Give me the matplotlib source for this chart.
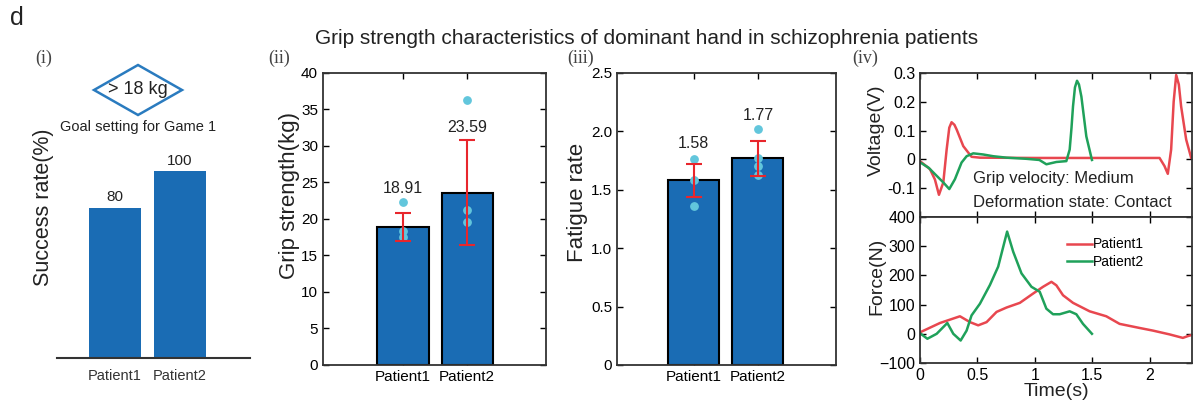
import matplotlib
matplotlib.use('Agg')
import matplotlib.pyplot as plt
from matplotlib.patches import Polygon

plt.rcParams['font.family'] = ['Liberation Sans', 'DejaVu Sans']

# ---- data ----
patients = ['Patient1', 'Patient2']
success_rate = [80, 100]

grip_mean = [18.91, 23.59]
grip_err = [1.9, 7.2]
grip_pts_p1 = [22.3, 18.3, 17.6]
grip_pts_p2 = [36.3, 21.2, 19.6]

fatigue_mean = [1.58, 1.77]
fatigue_err = [0.14, 0.15]
fatigue_pts_p1 = [1.76, 1.58, 1.36]
fatigue_pts_p2 = [2.02, 1.77, 1.70, 1.63]

# voltage traces
v1_t = [0, 0.087, 0.13, 0.165, 0.203, 0.232, 0.255, 0.275, 0.3, 0.32, 0.377, 0.449, 0.522, 1.0, 1.5, 2.087, 2.13, 2.159, 2.188, 2.21, 2.232, 2.255, 2.275, 2.319, 2.362]
v1_v = [-0.006, -0.034, -0.07, -0.123, -0.08, 0.034, 0.11, 0.129, 0.12, 0.103, 0.046, 0.009, 0.006, 0.005, 0.005, 0.005, -0.023, -0.05, 0.034, 0.2, 0.293, 0.26, 0.184, 0.069, 0.006]
v2_t = [0, 0.075, 0.145, 0.203, 0.255, 0.304, 0.362, 0.406, 0.464, 0.551, 0.638, 0.754, 0.928, 1.04, 1.101, 1.188, 1.275, 1.304, 1.32, 1.333, 1.35, 1.368, 1.385, 1.406, 1.449, 1.498]
v2_v = [-0.01, -0.029, -0.057, -0.08, -0.103, -0.069, -0.011, 0.011, 0.021, 0.017, 0.011, 0.006, 0.002, -0.002, -0.017, -0.009, -0.006, 0.034, 0.11, 0.184, 0.25, 0.273, 0.26, 0.218, 0.08, -0.002]

# force traces
f1_t = [0, 0.174, 0.348, 0.435, 0.507, 0.58, 0.667, 0.754, 0.87, 0.986, 1.072, 1.145, 1.188, 1.246, 1.333, 1.478, 1.623, 1.739, 1.913, 2.029, 2.174, 2.29, 2.333, 2.36]
f1_f = [5, 37, 60, 40, 29, 40, 75, 90, 106, 138, 161, 178, 166, 132, 106, 77, 60, 34, 20, 11, -2, -14, -8, -5]
f2_t = [0, 0.064, 0.145, 0.238, 0.29, 0.354, 0.406, 0.449, 0.522, 0.609, 0.681, 0.759, 0.812, 0.884, 0.971, 1.043, 1.101, 1.159, 1.217, 1.304, 1.362, 1.42, 1.498]
f2_f = [2, -17, 0, 37, 0, -23, 11, 63, 103, 167, 230, 350, 281, 207, 161, 144, 86, 67, 67, 77, 67, 34, 0]

bar_color = '#1a6cb4'
dot_color = '#62c6dc'
err_color = '#e8262c'
red_line = '#e8474f'
green_line = '#1fa15a'
txt = '#222222'

fig = plt.figure(figsize=(12.02, 4.05), dpi=100)

fig.text(0.008, 0.955, 'd', fontsize=18, va='center', color=txt)
fig.text(0.538, 0.905, 'Grip strength characteristics of dominant hand in schizophrenia patients',
         fontsize=15, ha='center', va='center', color=txt)
for xpos, lab in [(0.029, '(i)'), (0.223, '(ii)'), (0.472, '(iii)'), (0.709, '(iv)')]:
    fig.text(xpos, 0.855, lab, fontsize=13, va='center', color='#444444', family='Liberation Serif')

x = [0, 1]

# ---- (i) success rate ----
ax1 = fig.add_axes([0.0474, 0.116, 0.1606, 0.5086])
ax1.bar(x, success_rate, width=0.8, color=bar_color)
for xi, v, ly in zip(x, success_rate, [86, 105]):
    ax1.text(xi, ly, str(v), ha='center', va='center', fontsize=11, color=txt)
ax1.set_xlim(-0.89, 2.08)
ax1.set_ylim(0, 110)
ax1.set_xticks(x)
ax1.set_xticklabels(patients, fontsize=10.5, color='#333333')
ax1.tick_params(axis='x', length=0, pad=8)
ax1.set_yticks([])
for s in ['top', 'right', 'left']:
    ax1.spines[s].set_visible(False)
ax1.spines['bottom'].set_linewidth(1.5)
ax1.spines['bottom'].set_color('#333333')
ax1.set_ylabel('Success rate(%)', fontsize=15.5, color=txt)
ax1.yaxis.set_label_coords(-0.015, 0.73)

# diamond goal box
cx, cy, hw, hh = 138 / 1202, 1 - 90 / 405, 44 / 1202, 25 / 405
diamond = Polygon([(cx - hw, cy), (cx, cy + hh), (cx + hw, cy), (cx, cy - hh)], closed=True,
                  fill=False, edgecolor='#2a7bbf', linewidth=1.8, transform=fig.transFigure)
fig.add_artist(diamond)
fig.text(cx, cy, '> 18 kg', ha='center', va='center', fontsize=13, color=txt)
fig.text(cx, 1 - 127 / 405, 'Goal setting for Game 1', ha='center', va='center', fontsize=10.5, color=txt)


def style_box(ax):
    ax.tick_params(direction='in', top=True, right=True, labelsize=11, length=4, width=1)
    for s in ax.spines.values():
        s.set_linewidth(1.3)
        s.set_color('#333333')


# ---- (ii) grip strength ----
ax2 = fig.add_axes([0.2687, 0.0988, 0.1855, 0.721])
ax2.bar(x, grip_mean, width=0.8, color=bar_color, edgecolor='black', linewidth=1.5, zorder=2)
ax2.scatter([0] * len(grip_pts_p1), grip_pts_p1, s=28, color=dot_color, zorder=3)
ax2.scatter([1] * len(grip_pts_p2), grip_pts_p2, s=28, color=dot_color, zorder=3)
ax2.errorbar(x, grip_mean, yerr=grip_err, fmt='none', ecolor=err_color, elinewidth=1.5,
             capsize=6, capthick=1.5, zorder=4)
for xi, m, ly in zip(x, grip_mean, [24.2, 32.5]):
    ax2.text(xi, ly, f'{m:.2f}', ha='center', va='center', fontsize=11.5, color=txt)
ax2.set_xlim(-1.25, 2.23)
ax2.set_ylim(0, 40)
ax2.set_yticks(range(0, 41, 5))
ax2.set_xticks(x)
ax2.set_xticklabels(patients, fontsize=10.5)
style_box(ax2)
ax2.set_ylabel('Grip strength(kg)', fontsize=16, color=txt)
ax2.yaxis.set_label_coords(-0.104, 0.58)

# ---- (iii) fatigue rate ----
ax3 = fig.add_axes([0.5133, 0.0988, 0.1822, 0.721])
ax3.bar(x, fatigue_mean, width=0.8, color=bar_color, edgecolor='black', linewidth=1.5, zorder=2)
ax3.scatter([0] * len(fatigue_pts_p1), fatigue_pts_p1, s=28, color=dot_color, zorder=3)
ax3.scatter([1] * len(fatigue_pts_p2), fatigue_pts_p2, s=28, color=dot_color, zorder=3)
ax3.errorbar(x, fatigue_mean, yerr=fatigue_err, fmt='none', ecolor=err_color, elinewidth=1.5,
             capsize=6, capthick=1.5, zorder=4)
for xi, m, ly in zip(x, fatigue_mean, [1.90, 2.14]):
    ax3.text(xi, ly, f'{m:.2f}', ha='center', va='center', fontsize=11.5, color=txt)
ax3.set_xlim(-1.2, 2.22)
ax3.set_ylim(0, 2.5)
ax3.set_yticks([0, 0.5, 1.0, 1.5, 2.0, 2.5])
ax3.set_yticklabels(['0', '0.5', '1.0', '1.5', '2.0', '2.5'])
ax3.set_xticks(x)
ax3.set_xticklabels(patients, fontsize=10.5)
style_box(ax3)
ax3.set_ylabel('Fatigue rate', fontsize=16, color=txt)
ax3.yaxis.set_label_coords(-0.132, 0.555)

# ---- (iv) voltage / force ----
ax4 = fig.add_axes([0.7654, 0.4642, 0.2263, 0.3556])
ax4.plot(v1_t, v1_v, color=red_line, lw=1.8)
ax4.plot(v2_t, v2_v, color=green_line, lw=1.8)
ax4.set_xlim(0, 2.37)
ax4.set_ylim(-0.2, 0.3)
ax4.set_yticks([-0.1, 0, 0.1, 0.2, 0.3])
ax4.set_yticklabels(['-0.1', '0', '0.1', '0.2', '0.3'])
ax4.set_xticks([0, 0.5, 1, 1.5, 2])
ax4.set_xticklabels([])
style_box(ax4)
ax4.tick_params(labelsize=11.5)
ax4.set_ylabel('Voltage(V)', fontsize=14, color=txt)
ax4.yaxis.set_label_coords(-0.129, 0.60)
ax4.text(0.195, 0.27, 'Grip velocity: Medium', transform=ax4.transAxes, fontsize=12, va='center', color=txt)
ax4.text(0.195, 0.10, 'Deformation state: Contact', transform=ax4.transAxes, fontsize=12, va='center', color=txt)

ax5 = fig.add_axes([0.7654, 0.1037, 0.2263, 0.3605])
ax5.plot(f1_t, f1_f, color=red_line, lw=1.8, label='Patient1')
ax5.plot(f2_t, f2_f, color=green_line, lw=1.8, label='Patient2')
ax5.set_xlim(0, 2.37)
ax5.set_ylim(-100, 400)
ax5.set_yticks([-100, 0, 100, 200, 300, 400])
ax5.set_xticks([0, 0.5, 1, 1.5, 2])
ax5.set_xticklabels(['0', '0.5', '1', '1.5', '2'])
style_box(ax5)
ax5.tick_params(labelsize=11.5)
ax5.set_ylabel('Force(N)', fontsize=14, color=txt)
ax5.yaxis.set_label_coords(-0.129, 0.59)
ax5.set_xlabel('Time(s)', fontsize=14, labelpad=0, color=txt)
ax5.legend(loc='upper left', bbox_to_anchor=(0.54, 0.86), frameon=False, fontsize=10,
           handlelength=1.8, handletextpad=0.05, labelspacing=0.25, borderpad=0, borderaxespad=0)

fig.savefig('out.png', dpi=100)
